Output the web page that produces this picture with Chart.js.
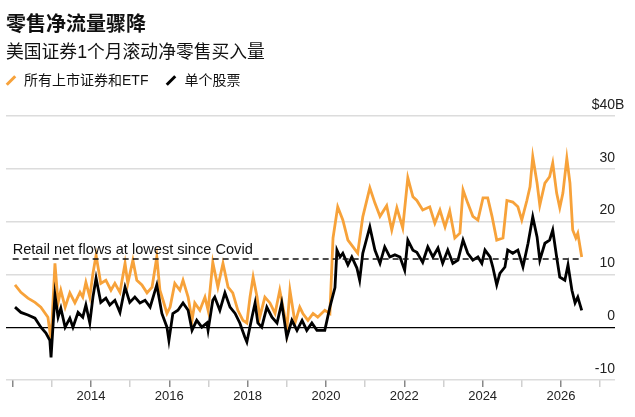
<!DOCTYPE html>
<html>
<head>
<meta charset="utf-8">
<script src="https://cdn.jsdelivr.net/npm/chart.js@4/dist/chart.umd.min.js"></script>
<style>
    body {
        margin: 0;
        width: 635px;
        height: 417px;
        background: #fff;
        position: relative;
        overflow: hidden;
        font-family: "Liberation Sans", "Noto Sans CJK SC", sans-serif;
        color: #111;
    }
    #chart { position: absolute; left: 0; top: 0; }
    .title {
        position: absolute; left: 6px; top: 13px;
        font-size: 20px; line-height: 20px; font-weight: bold;
        font-family: "Noto Sans CJK SC", sans-serif;
    }
    .subtitle {
        position: absolute; left: 6px; top: 43px;
        font-size: 17.8px; line-height: 18px;
        font-family: "Liberation Sans", "Noto Sans CJK SC", sans-serif;
    }
    .legend {
        position: absolute; left: 6px; top: 73px;
        font-size: 14px; line-height: 14px;
        display: flex; align-items: center;
    }
    .legend .item { display: flex; align-items: center; margin-right: 18px; }
    .legend .swatch {
        width: 12px; height: 3px; transform: rotate(-45deg);
        margin-right: 7px; margin-left: -1px;
    }
</style>
</head>
<body>
<canvas id="chart" width="635" height="417"></canvas>
<div class="title">零售净流量骤降</div>
<div class="subtitle">美国证券1个月滚动净零售买入量</div>
<div class="legend">
    <div class="item"><span class="swatch" style="background:#f7a23a"></span>所有上市证券和ETF</div>
    <div class="item"><span class="swatch" style="background:#000"></span>单个股票</div>
</div>
<script>
// All listed securities & ETFs ($B, 1-month rolling net retail buying)
const allYears = [2012.06, 2012.21, 2012.39, 2012.57, 2012.72, 2012.90, 2012.98, 2013.08, 2013.16, 2013.23,
    2013.34, 2013.46, 2013.59, 2013.72, 2013.79, 2013.87, 2013.97, 2014.05, 2014.13, 2014.25,
    2014.38, 2014.51, 2014.61, 2014.74, 2014.87, 2014.94, 2015.07, 2015.17, 2015.30, 2015.43,
    2015.56, 2015.68, 2015.76, 2015.84, 2015.94, 2016.02, 2016.14, 2016.27, 2016.35, 2016.48,
    2016.58, 2016.65, 2016.78, 2016.91, 2016.99, 2017.11, 2017.24, 2017.37, 2017.50, 2017.62,
    2017.75, 2017.88, 2017.98, 2018.06, 2018.14, 2018.24, 2018.31, 2018.44, 2018.57, 2018.70,
    2018.82, 2018.95, 2019.00, 2019.08, 2019.21, 2019.33, 2019.41, 2019.54, 2019.67, 2019.79,
    2019.97, 2020.10, 2020.18, 2020.30, 2020.43, 2020.56, 2020.69, 2020.81, 2020.94, 2021.12,
    2021.25, 2021.38, 2021.55, 2021.68, 2021.81, 2021.96, 2022.09, 2022.22, 2022.32, 2022.47,
    2022.65, 2022.78, 2022.91, 2023.04, 2023.16, 2023.29, 2023.42, 2023.50, 2023.62, 2023.75,
    2023.88, 2024.01, 2024.13, 2024.24, 2024.36, 2024.52, 2024.62, 2024.77, 2024.90, 2025.00,
    2025.13, 2025.21, 2025.28, 2025.39, 2025.46, 2025.59, 2025.71, 2025.79, 2025.89, 2025.97,
    2026.05, 2026.15, 2026.23, 2026.30, 2026.38, 2026.43, 2026.53];
const allValues = [8.0, 6.6, 5.5, 4.7, 3.8, 1.9, -2.5, 12.1, 4.6, 7.0,
    3.8, 6.5, 4.6, 6.6, 5.7, 8.5, 5.7, 10.2, 13.6, 8.3,
    8.9, 7.0, 8.3, 6.6, 12.1, 8.3, 12.7, 8.9, 8.0, 6.5,
    7.6, 13.3, 7.0, 5.1, 2.6, 3.8, 8.3, 7.0, 8.9, 5.7,
    1.3, 4.6, 3.2, 5.7, 3.2, 12.3, 7.6, 12.1, 7.6, 6.5,
    3.2, 1.3, 0.8, 5.7, 9.5, 5.7, 1.9, 5.7, 4.6, 2.6,
    7.0, 1.9, -0.6, 7.0, 0.8, 3.8, 2.6, 1.3, 2.6, 1.9,
    3.2, 2.6, 16.9, 22.8, 20.3, 16.5, 15.2, 14.0, 20.9, 26.4,
    23.5, 21.0, 23.0, 18.4, 22.6, 18.8, 28.3, 24.7, 24.0, 22.2,
    22.8, 19.7, 22.2, 19.0, 22.0, 16.9, 17.8, 26.0, 23.5, 21.0,
    20.3, 24.5, 24.5, 21.0, 16.5, 16.9, 24.0, 23.7, 22.8, 20.3,
    24.0, 26.6, 32.3, 27.3, 23.1, 27.3, 28.5, 31.1, 25.4, 22.6,
    25.4, 32.0, 27.3, 18.4, 16.9, 17.8, 13.3];

// Single stocks
const stockYears = [2012.06, 2012.21, 2012.39, 2012.57, 2012.72, 2012.85, 2012.95, 2012.98, 2013.08, 2013.16,
    2013.23, 2013.34, 2013.46, 2013.54, 2013.67, 2013.79, 2013.87, 2013.97, 2014.05, 2014.13,
    2014.25, 2014.38, 2014.48, 2014.61, 2014.74, 2014.87, 2014.99, 2015.12, 2015.25, 2015.38,
    2015.51, 2015.68, 2015.81, 2015.94, 2015.99, 2016.09, 2016.22, 2016.35, 2016.48, 2016.58,
    2016.70, 2016.83, 2016.96, 2016.99, 2017.11, 2017.16, 2017.29, 2017.42, 2017.55, 2017.68,
    2017.80, 2017.93, 2017.98, 2018.11, 2018.19, 2018.26, 2018.36, 2018.49, 2018.62, 2018.75,
    2018.87, 2019.00, 2019.13, 2019.26, 2019.39, 2019.51, 2019.64, 2019.77, 2019.97, 2020.10,
    2020.23, 2020.28, 2020.36, 2020.43, 2020.56, 2020.66, 2020.79, 2020.86, 2020.94, 2021.12,
    2021.25, 2021.38, 2021.50, 2021.63, 2021.76, 2021.89, 2022.01, 2022.09, 2022.22, 2022.32,
    2022.47, 2022.60, 2022.73, 2022.86, 2022.98, 2023.11, 2023.24, 2023.37, 2023.50, 2023.62,
    2023.75, 2023.88, 2023.98, 2024.06, 2024.19, 2024.26, 2024.36, 2024.44, 2024.57, 2024.64,
    2024.77, 2024.90, 2025.03, 2025.16, 2025.28, 2025.39, 2025.46, 2025.59, 2025.71, 2025.79,
    2025.89, 2025.97, 2026.10, 2026.18, 2026.28, 2026.36, 2026.43, 2026.53];
const stockValues = [3.8, 2.8, 2.3, 1.7, 0.0, -1.1, -2.5, -5.7, 6.1, 1.9,
    3.6, 0.0, 1.7, 0.0, 2.8, 1.9, 4.2, 0.8, 5.7, 9.3,
    4.7, 5.5, 4.2, 5.1, 2.8, 7.6, 4.7, 5.7, 4.6, 5.1,
    3.8, 8.0, 2.6, 0.0, -2.5, 2.6, 3.2, 4.6, 3.2, -0.6,
    1.3, 0.0, 0.8, -0.6, 5.1, 5.7, 3.2, 6.5, 3.8, 2.6,
    0.8, -1.9, -2.8, 1.9, 4.6, 0.8, 0.0, 3.8, 1.9, 0.8,
    4.6, -1.9, 1.3, -0.6, 1.3, -0.6, 0.8, -0.6, -0.6, 3.8,
    7.5, 14.6, 13.3, 14.0, 11.8, 13.3, 11.2, 8.9, 14.0, 19.0,
    14.6, 12.1, 15.2, 13.3, 13.7, 13.3, 10.8, 16.5, 14.6, 14.2,
    12.3, 15.2, 13.3, 15.0, 12.1, 14.6, 12.1, 12.7, 16.5, 14.0,
    12.7, 13.3, 12.1, 14.6, 13.3, 11.4, 8.0, 10.2, 11.4, 14.6,
    14.0, 14.6, 11.4, 15.9, 20.9, 17.1, 12.7, 15.9, 16.5, 18.4,
    13.3, 9.5, 8.9, 11.8, 7.0, 4.6, 5.7, 3.2];

// "lowest since Covid" reference level and its span
const lowLevel = 12.9;
const lowSpan = [2012.0, 2026.53];
const annotationText = 'Retail net flows at lowest since Covid';

const yTicks = [-10, 0, 10, 20, 30, 40];
const xTickLabels = [2014, 2016, 2018, 2020, 2022, 2024, 2026];

const ORANGE = '#f7a23a';
const FONT = '"Liberation Sans", Arial, sans-serif';

const toPoints = (xs, ys) => xs.map((x, i) => ({ x: x, y: ys[i] }));

// draws the annotation text and the "$40B" top label
const overlayPlugin = {
    id: 'overlay',
    afterDraw(chart) {
        const ctx = chart.ctx;
        const xs = chart.scales.x;
        const ys = chart.scales.y;
        ctx.save();
        ctx.fillStyle = '#111';
        ctx.font = '14.6px ' + FONT;
        ctx.textBaseline = 'alphabetic';
        ctx.textAlign = 'left';
        ctx.fillText(annotationText, xs.getPixelForValue(lowSpan[0]), ys.getPixelForValue(lowLevel) - 5);

        ctx.fillStyle = '#222';
        ctx.font = '14px ' + FONT;
        ctx.textBaseline = 'middle';
        const w = ctx.measureText('$40').width;
        ctx.fillText('$40B', chart.chartArea.right - w, ys.getPixelForValue(40) - 11);
        ctx.restore();
    }
};

new Chart(document.getElementById('chart'), {
    type: 'line',
    data: {
        datasets: [
            {
                label: 'low',
                data: toPoints(lowSpan, [lowLevel, lowLevel]),
                borderColor: '#111',
                borderWidth: 1.5,
                borderDash: [6, 4],
                pointRadius: 0,
                order: 0
            },
            {
                label: '单个股票',
                data: toPoints(stockYears, stockValues),
                borderColor: '#000',
                borderWidth: 2.8,
                pointRadius: 0,
                tension: 0,
                order: 1
            },
            {
                label: '所有上市证券和ETF',
                data: toPoints(allYears, allValues),
                borderColor: ORANGE,
                borderWidth: 2.8,
                pointRadius: 0,
                tension: 0,
                order: 2
            }
        ]
    },
    options: {
        responsive: false,
        animation: false,
        layout: { padding: { top: 116, left: 6, right: 20, bottom: 0 } },
        plugins: {
            legend: { display: false },
            tooltip: { enabled: false }
        },
        scales: {
            x: {
                type: 'linear',
                min: 2011.83,
                max: 2027.38,
                afterFit: s => { s.height = 37; },
                border: { display: false },
                grid: {
                    drawOnChartArea: false,
                    drawTicks: true,
                    tickLength: 7,
                    tickColor: c => (c.tick && c.tick.value % 2 === 0) ? '#888' : '#d0d0d0',
                    lineWidth: 1.5
                },
                ticks: {
                    stepSize: 1,
                    includeBounds: false,
                    autoSkip: false,
                    maxRotation: 0,
                    padding: 2,
                    color: '#222',
                    font: { family: FONT, size: 13 },
                    callback: v => xTickLabels.includes(v) ? String(v) : ''
                }
            },
            y: {
                position: 'right',
                min: yTicks[0],
                max: yTicks[yTicks.length - 1],
                afterFit: s => { s.width = 0; },
                afterBuildTicks: s => { s.ticks = yTicks.map(v => ({ value: v })); },
                border: { display: false },
                grid: {
                    drawTicks: false,
                    color: c => c.tick.value === 0 ? '#000' : '#dcdcdc',
                    lineWidth: c => c.tick.value === 0 ? 1.2 : 1.6
                },
                ticks: {
                    mirror: true,
                    padding: 0,
                    labelOffset: -11,
                    color: '#222',
                    font: { family: FONT, size: 14 },
                    callback: v => v === 40 ? '' : String(v)
                }
            }
        }
    },
    plugins: [overlayPlugin]
});
</script>
</body>
</html>
